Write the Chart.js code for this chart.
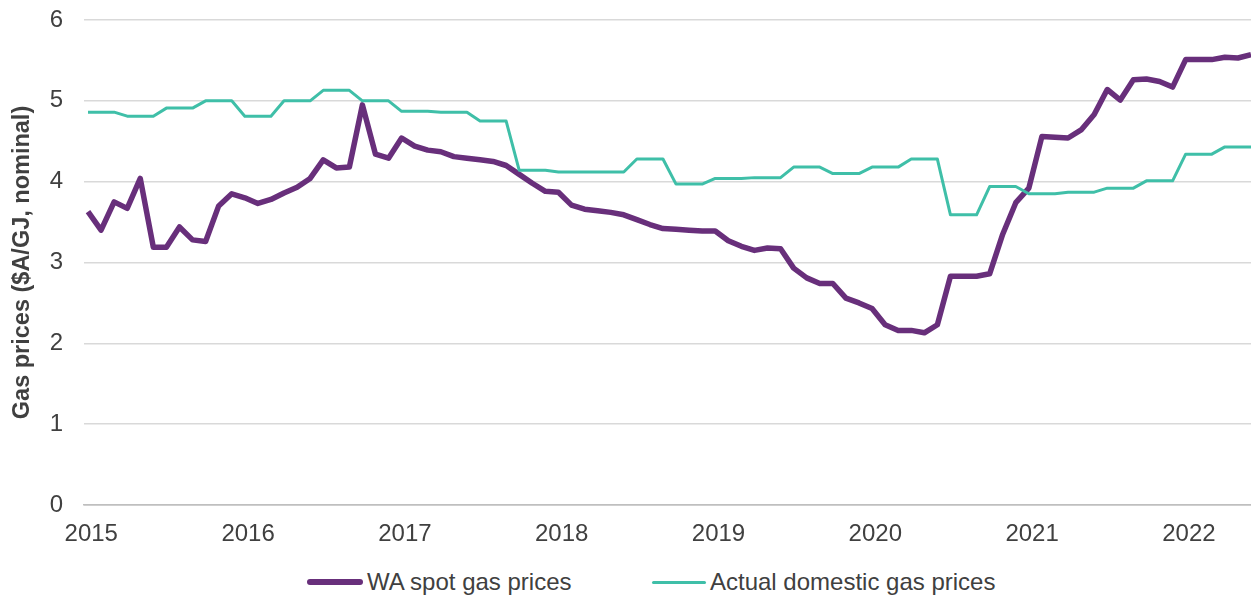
<!DOCTYPE html>
<html>
<head>
<meta charset="utf-8">
<script src="https://cdn.jsdelivr.net/npm/chart.js@4.4.0/dist/chart.umd.min.js"></script>
<style>
    body { margin: 0; background: #fff; }
    #wrap { position: relative; width: 1251px; height: 597px; }
    #legend { position: absolute; top: 568px; left: 0; width: 1251px; height: 28px;
        font-family: 'Liberation Sans', Arial, sans-serif; font-size: 24px; color: #404040; line-height: 28px; }
    .item { position: absolute; top: 0; white-space: nowrap; display: flex; align-items: center; }
    .swatch { display: inline-block; margin-right: 4px; border-radius: 3px; }
</style>
</head>
<body>
<div id="wrap">
    <canvas id="myChart"></canvas>
    <div id="legend"></div>
</div>
<script>
// monthly categories, Jan 2015 - Jun 2022
const months = [
    '2015-01','2015-02','2015-03','2015-04','2015-05','2015-06','2015-07','2015-08','2015-09','2015-10','2015-11','2015-12',
    '2016-01','2016-02','2016-03','2016-04','2016-05','2016-06','2016-07','2016-08','2016-09','2016-10','2016-11','2016-12',
    '2017-01','2017-02','2017-03','2017-04','2017-05','2017-06','2017-07','2017-08','2017-09','2017-10','2017-11','2017-12',
    '2018-01','2018-02','2018-03','2018-04','2018-05','2018-06','2018-07','2018-08','2018-09','2018-10','2018-11','2018-12',
    '2019-01','2019-02','2019-03','2019-04','2019-05','2019-06','2019-07','2019-08','2019-09','2019-10','2019-11','2019-12',
    '2020-01','2020-02','2020-03','2020-04','2020-05','2020-06','2020-07','2020-08','2020-09','2020-10','2020-11','2020-12',
    '2021-01','2021-02','2021-03','2021-04','2021-05','2021-06','2021-07','2021-08','2021-09','2021-10','2021-11','2021-12',
    '2022-01','2022-02','2022-03','2022-04','2022-05','2022-06'
];
const yearTicks = ['2015', '2016', '2017', '2018', '2019', '2020', '2021', '2022'];
const yTicks = [0, 1, 2, 3, 4, 5, 6];

const seriesNames = ['WA spot gas prices', 'Actual domestic gas prices'];

const waSpot = [
    3.63, 3.40, 3.75, 3.67, 4.04, 3.19, 3.19, 3.44, 3.28, 3.26, 3.70, 3.85,
    3.80, 3.73, 3.78, 3.86, 3.93, 4.04, 4.27, 4.17, 4.18, 4.95, 4.34, 4.29,
    4.54, 4.44, 4.39, 4.37, 4.31, 4.29, 4.27, 4.25, 4.20, 4.09, 3.98, 3.88,
    3.87, 3.71, 3.66, 3.64, 3.62, 3.59, 3.53, 3.47, 3.42, 3.41, 3.40, 3.39,
    3.39, 3.27, 3.20, 3.15, 3.18, 3.17, 2.93, 2.81, 2.74, 2.74, 2.56, 2.50,
    2.43, 2.23, 2.16, 2.16, 2.13, 2.23, 2.83, 2.83, 2.83, 2.86, 3.35, 3.74,
    3.92, 4.56, 4.55, 4.54, 4.64, 4.83, 5.14, 5.01, 5.26, 5.27, 5.24, 5.17,
    5.51, 5.51, 5.51, 5.54, 5.53, 5.57
];
const domestic = [
    4.86, 4.86, 4.86, 4.81, 4.81, 4.81, 4.91, 4.91, 4.91, 5.00, 5.00, 5.00,
    4.81, 4.81, 4.81, 5.00, 5.00, 5.00, 5.13, 5.13, 5.13, 5.00, 5.00, 5.00,
    4.87, 4.87, 4.87, 4.86, 4.86, 4.86, 4.75, 4.75, 4.75, 4.14, 4.14, 4.14,
    4.12, 4.12, 4.12, 4.12, 4.12, 4.12, 4.28, 4.28, 4.28, 3.97, 3.97, 3.97,
    4.04, 4.04, 4.04, 4.05, 4.05, 4.05, 4.18, 4.18, 4.18, 4.10, 4.10, 4.10,
    4.18, 4.18, 4.18, 4.28, 4.28, 4.28, 3.59, 3.59, 3.59, 3.94, 3.94, 3.94,
    3.85, 3.85, 3.85, 3.87, 3.87, 3.87, 3.92, 3.92, 3.92, 4.01, 4.01, 4.01,
    4.34, 4.34, 4.34, 4.43, 4.43, 4.43
];

const purple = '#682f7b';
const teal = '#3fbfa8';
const textColor = '#404040';
const fontFamily = "'Liberation Sans', Arial, sans-serif";

document.addEventListener('DOMContentLoaded', () => {
    const chartElement = document.getElementById('myChart');
    chartElement.width = 1251;
    chartElement.height = 555;

    const toPoints = values => values.map((v, i) => ({ x: i, y: v }));

    new Chart(chartElement, {
        type: 'line',
        data: {
            labels: months,
            datasets: [{
                label: seriesNames[0],
                data: toPoints(waSpot),
                borderColor: purple,
                borderWidth: 5.5,
                pointRadius: 0,
                tension: 0,
                borderJoinStyle: 'round',
                order: 1
            }, {
                label: seriesNames[1],
                data: toPoints(domestic),
                borderColor: teal,
                borderWidth: 3,
                pointRadius: 0,
                tension: 0,
                borderJoinStyle: 'round',
                order: 0
            }]
        },
        options: {
            responsive: false,
            animation: false,
            devicePixelRatio: 1,
            layout: { padding: { top: 20, right: 0, left: 0, bottom: 0 } },
            plugins: {
                legend: { display: false },
                tooltip: { enabled: false }
            },
            scales: {
                x: {
                    type: 'linear',
                    min: -0.306,
                    max: months.length - 1,
                    grid: { display: false },
                    border: { display: true, color: '#bfbfbf', width: 1.5 },
                    afterBuildTicks: scale => {
                        scale.ticks = yearTicks.map((y, k) => ({ value: k * 12 + 0.25 }));
                    },
                    afterFit: scale => { scale.height = 50; },
                    ticks: {
                        autoSkip: false,
                        maxRotation: 0,
                        padding: 7,
                        color: textColor,
                        font: { family: fontFamily, size: 24 },
                        callback: value => yearTicks[Math.round((value - 0.25) / 12)]
                    }
                },
                y: {
                    min: 0,
                    max: 6,
                    afterBuildTicks: scale => {
                        scale.ticks = yTicks.map(v => ({ value: v }));
                    },
                    afterFit: scale => { scale.width = 84; },
                    grid: {
                        drawTicks: true,
                        tickLength: 21,
                        tickColor: 'rgba(0,0,0,0)',
                        color: ctx => ctx.tick && ctx.tick.value === 0 ? '#bfbfbf' : '#d9d9d9',
                        lineWidth: 1.5
                    },
                    border: { display: false },
                    ticks: {
                        padding: 0,
                        color: textColor,
                        font: { family: fontFamily, size: 24 }
                    },
                    title: {
                        display: true,
                        text: 'Gas prices ($A/GJ, nominal)',
                        color: textColor,
                        padding: { top: 8, bottom: 0 },
                        font: { family: fontFamily, size: 23.5, weight: 'bold' }
                    }
                }
            }
        }
    });

    // legend drawn as html below the canvas
    const legend = document.getElementById('legend');
    const items = [
        { text: seriesNames[0], color: purple, w: 56, h: 6, left: 307 },
        { text: seriesNames[1], color: teal, w: 54, h: 3, left: 652 }
    ];
    items.forEach(it => {
        const el = document.createElement('span');
        el.className = 'item';
        el.style.left = it.left + 'px';
        const sw = document.createElement('i');
        sw.className = 'swatch';
        sw.style.width = it.w + 'px';
        sw.style.height = it.h + 'px';
        sw.style.background = it.color;
        el.appendChild(sw);
        el.appendChild(document.createTextNode(it.text));
        legend.appendChild(el);
    });
});
</script>
</body>
</html>
